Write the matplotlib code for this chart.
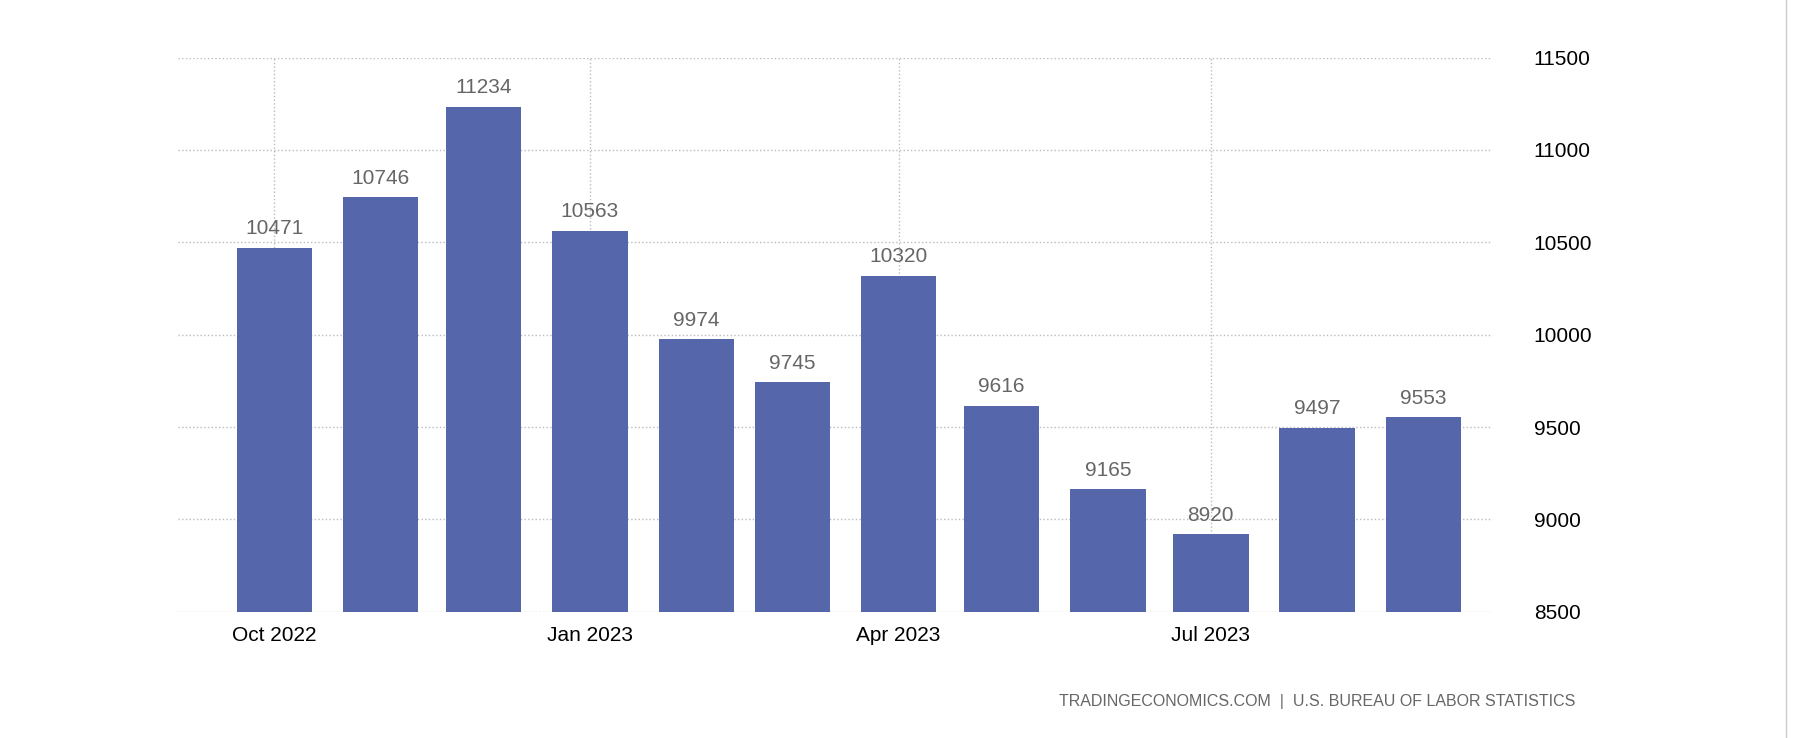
import numpy as np
import pandas as pd
import matplotlib
matplotlib.use("Agg")
import matplotlib.pyplot as plt
import matplotlib.dates as mdates

months = pd.date_range("2022-10-01", periods=12, freq="MS")
values = [10471, 10746, 11234, 10563, 9974, 9745, 10320, 9616, 9165, 8920, 9497, 9553]
tick_dates = pd.to_datetime(["2022-10-01", "2023-01-01", "2023-04-01", "2023-07-01"])
tick_labels = ["Oct 2022", "Jan 2023", "Apr 2023", "Jul 2023"]

BAR = "#5566aa"
plt.rcParams["font.family"] = ["Liberation Sans", "DejaVu Sans"]

fig = plt.figure(figsize=(18, 7.38), dpi=100)
ax = fig.add_axes([0.099, 0.171, 0.730, 0.751])

ax.bar(months, values, width=22, color=BAR, bottom=0, zorder=2)
for d, v in zip(months, values):
    ax.text(d, v + 50, str(v), ha="center", va="bottom", fontsize=15, color="#666666")

ax.set_ylim(8500, 11500)
ax.set_xlim(pd.Timestamp("2022-09-03"), pd.Timestamp("2023-09-21"))
ax.set_yticks(np.arange(8500, 11501, 500))
ax.yaxis.tick_right()
ax.set_xticks(tick_dates)
ax.set_xticklabels(tick_labels)
ax.tick_params(axis="both", length=0, labelsize=15, pad=10)
ax.tick_params(axis="y", pad=30)
ax.grid(True, linestyle=":", color="#bbbbbb", linewidth=1, zorder=0)
for s in ax.spines.values():
    s.set_visible(False)

fig.text(0.875, 0.05, "TRADINGECONOMICS.COM  |  U.S. BUREAU OF LABOR STATISTICS",
         ha="right", va="center", fontsize=11.5, color="#666666")
fig.add_artist(plt.Line2D([0.992, 0.992], [0, 1], color="#cccccc", linewidth=1))

fig.savefig("out.png", dpi=100)
